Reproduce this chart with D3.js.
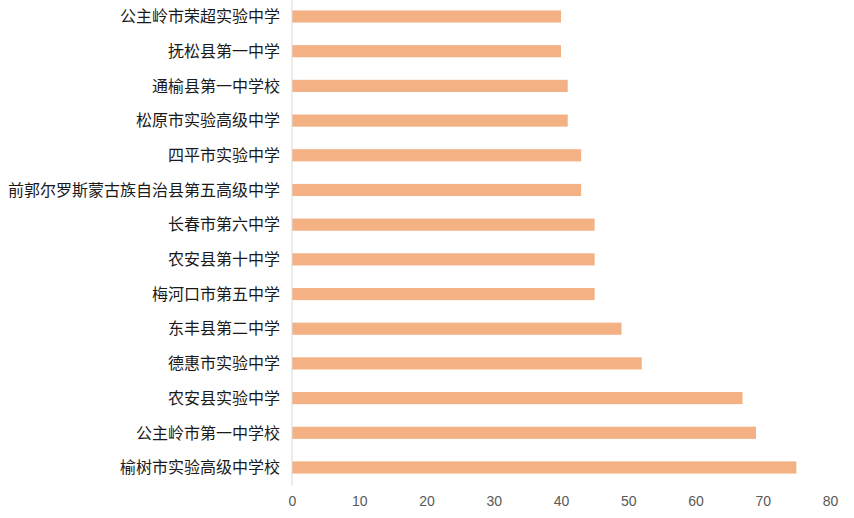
<!DOCTYPE html>
<html>
<meta charset="utf-8">
<head>
<script src="https://cdn.jsdelivr.net/npm/d3@7/dist/d3.min.js"></script>
</head>
<style>
body { margin: 0; background: #fff; font-family: "Noto Sans CJK SC", sans-serif; }
.cat-label { font-size: 16px; fill: #1a1a1a; }
.axis text { font-size: 14px; fill: #595959; font-family: "Liberation Sans", sans-serif; }
.axis .domain, .axis .tick line { display: none; }
</style>
<body>
<svg id="canvas"></svg>
<script>
// schools, top to bottom
const schools = [
  "公主岭市荣超实验中学", "抚松县第一中学", "通榆县第一中学校", "松原市实验高级中学",
  "四平市实验中学", "前郭尔罗斯蒙古族自治县第五高级中学", "长春市第六中学",
  "农安县第十中学", "梅河口市第五中学", "东丰县第二中学", "德惠市实验中学",
  "农安县实验中学", "公主岭市第一中学校", "榆树市实验高级中学校"
];
const counts = [40, 40, 41, 41, 43, 43, 45, 45, 45, 49, 52, 67, 69, 75];
const xTicks = [0, 10, 20, 30, 40, 50, 60, 70, 80];

const W = 854, H = 518;
const plotLeft = 292, plotRight = 830, plotTop = -1, plotBottom = 485;

const svg = d3.select('#canvas').attr('width', W).attr('height', H);

const x = d3.scaleLinear().domain([0, 80]).range([plotLeft, plotRight]);
const y = d3.scaleBand().domain(schools).range([plotTop, plotBottom]).paddingInner(0.65).paddingOuter(0.33);

// bars
svg.selectAll('rect.bar')
   .data(schools)
   .enter().append('rect')
   .attr('class', 'bar')
   .attr('x', x(0))
   .attr('y', d => y(d))
   .attr('width', (d, i) => x(counts[i]) - x(0))
   .attr('height', y.bandwidth())
   .attr('fill', '#F4B183');

// vertical axis line
svg.append('line')
   .attr('x1', x(0)).attr('x2', x(0))
   .attr('y1', 0).attr('y2', 486)
   .attr('stroke', '#d9d9d9').attr('stroke-width', 1);

// category labels
svg.selectAll('text.cat-label')
   .data(schools)
   .enter().append('text')
   .attr('class', 'cat-label')
   .attr('x', x(0) - 12)
   .attr('y', d => y(d) + y.bandwidth() / 2)
   .attr('dy', '0.36em')
   .attr('text-anchor', 'end')
   .text(d => d);

// x axis
svg.append('g')
   .attr('class', 'axis')
   .attr('transform', 'translate(0,493)')
   .call(d3.axisBottom(x).tickValues(xTicks).tickSize(0).tickPadding(3));
</script>
</body>
</html>
